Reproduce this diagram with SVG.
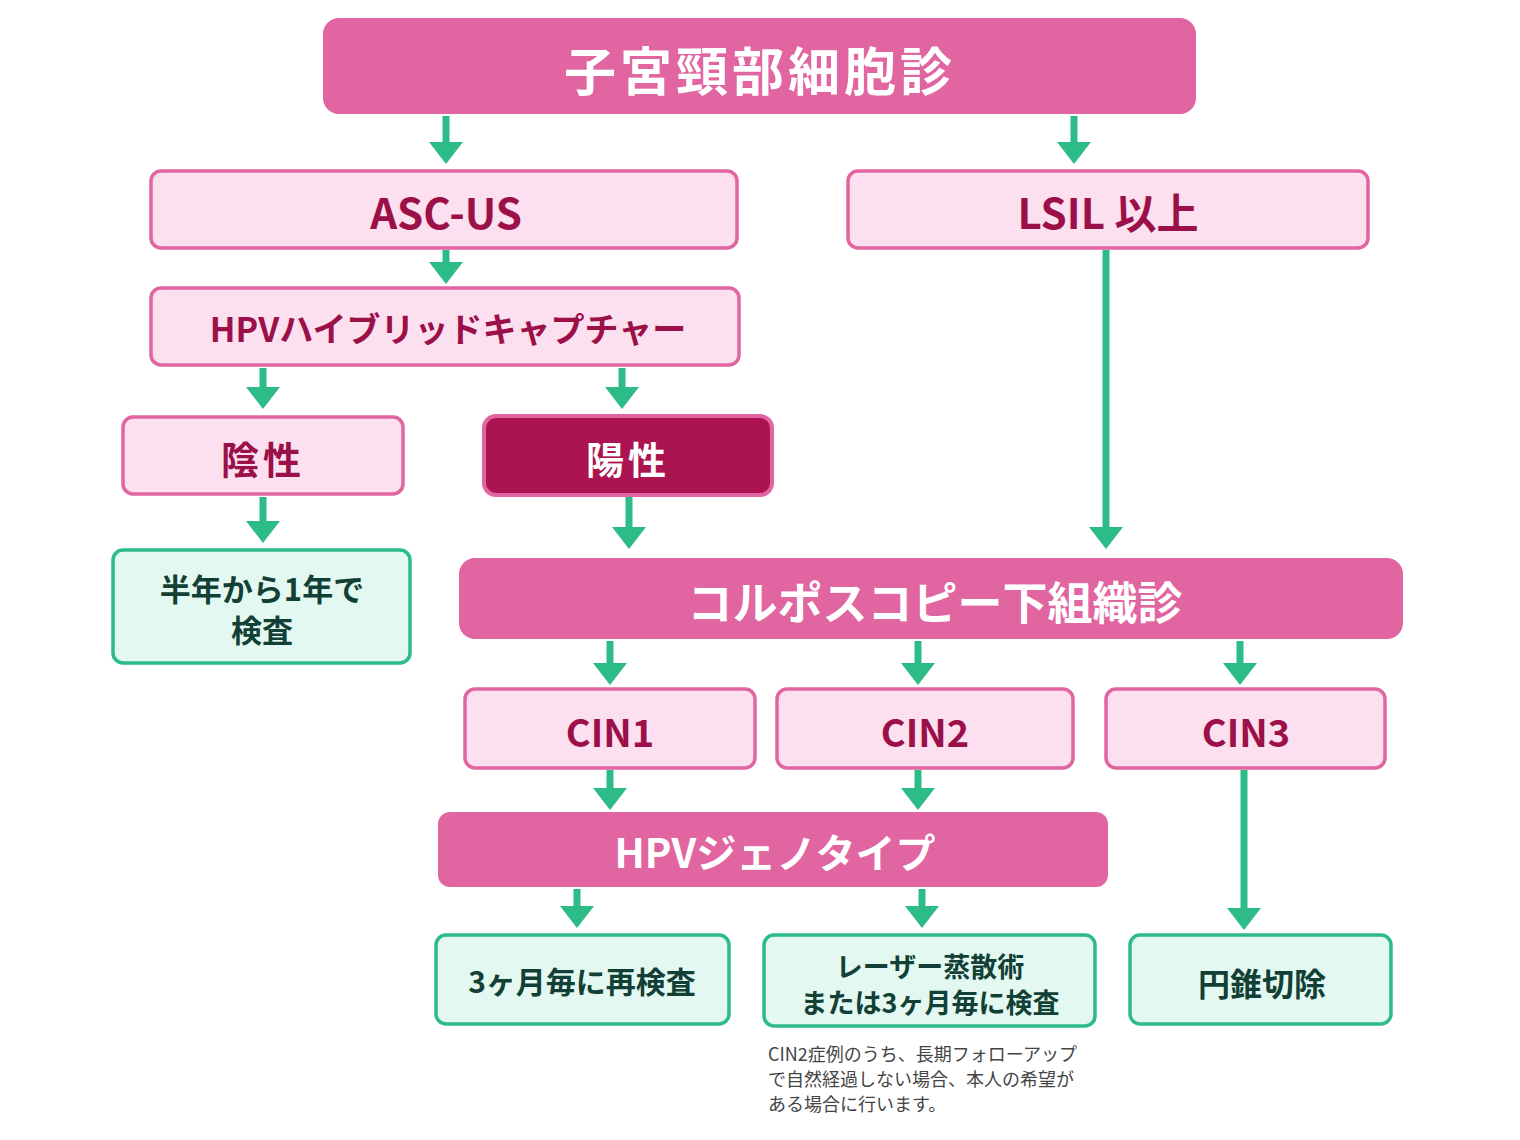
<svg xmlns="http://www.w3.org/2000/svg" width="1520" height="1140" viewBox="0 0 1520 1140">
<style>
text{font-family:"Noto Sans CJK JP","Noto Sans",sans-serif;font-weight:bold;text-anchor:middle;dominant-baseline:central}
.main rect{fill:#e065a0}
.main text{fill:#fff}
.lt rect{fill:#fde0ef;stroke:#e065a0;stroke-width:3.5}
.lt text{fill:#9b1048}
.gr rect{fill:#e3f8f0;stroke:#2dbb88;stroke-width:3.5}
.gr text{fill:#123f36}
.dk rect{fill:#ab1450;stroke:#e065a0;stroke-width:4}
.dk text{fill:#fff}
#connectors line{stroke:#2dbb88;stroke-width:7}
#connectors path{fill:#2dbb88}
.note{font-weight:normal;text-anchor:start;fill:#444;font-size:18px}
</style>
<rect width="1520" height="1140" fill="#fff"/>
<g id="connectors">
<line x1="446" y1="116" x2="446" y2="142"/><path d="M429 142h34l-17 22z"/>
<line x1="1074" y1="116" x2="1074" y2="142"/><path d="M1057 142h34l-17 22z"/>
<line x1="446" y1="250" x2="446" y2="264"/><path d="M429 262h34l-17 22z"/>
<line x1="263" y1="368" x2="263" y2="388"/><path d="M246 387h34l-17 22z"/>
<line x1="622" y1="368" x2="622" y2="388"/><path d="M605 387h34l-17 22z"/>
<line x1="263" y1="497" x2="263" y2="522"/><path d="M246 521h34l-17 22z"/>
<line x1="629" y1="497" x2="629" y2="528"/><path d="M612 527h34l-17 22z"/>
<line x1="1106" y1="250" x2="1106" y2="528"/><path d="M1089 527h34l-17 22z"/>
<line x1="610" y1="641" x2="610" y2="664"/><path d="M593 663h34l-17 22z"/>
<line x1="918" y1="641" x2="918" y2="664"/><path d="M901 663h34l-17 22z"/>
<line x1="1240" y1="641" x2="1240" y2="664"/><path d="M1223 663h34l-17 22z"/>
<line x1="610" y1="770" x2="610" y2="789"/><path d="M593 788h34l-17 22z"/>
<line x1="918" y1="770" x2="918" y2="789"/><path d="M901 788h34l-17 22z"/>
<line x1="1244" y1="770" x2="1244" y2="910"/><path d="M1227 908h34l-17 22z"/>
<line x1="577" y1="889" x2="577" y2="907"/><path d="M560 906h34l-17 22z"/>
<line x1="922" y1="889" x2="922" y2="907"/><path d="M905 906h34l-17 22z"/>
</g>
<g id="n-top" class="main"><rect x="323" y="18" width="873" height="96" rx="16"/><text x="760" y="68" font-size="52" letter-spacing="4">子宮頸部細胞診</text></g>
<g id="n-ascus" class="lt"><rect x="151" y="171" width="586" height="77" rx="10"/><text x="446" y="210" font-size="42">ASC-US</text></g>
<g id="n-lsil" class="lt"><rect x="848" y="171" width="520" height="77" rx="10"/><text x="1108" y="210" font-size="42">LSIL 以上</text></g>
<g id="n-hc" class="lt"><rect x="151" y="288" width="588" height="77" rx="10"/><text x="448" y="327" font-size="34">HPVハイブリッドキャプチャー</text></g>
<g id="n-neg" class="lt"><rect x="123" y="417" width="280" height="77" rx="10"/><text x="263" y="457" font-size="38" letter-spacing="4">陰性</text></g>
<g id="n-pos" class="dk"><rect x="484" y="416" width="288" height="79" rx="12"/><text x="628" y="457" font-size="38" letter-spacing="4">陽性</text></g>
<g id="n-6m" class="gr"><rect x="113" y="550" width="297" height="113" rx="10"/><text x="262" y="587" font-size="31">半年から1年で</text><text x="262" y="628" font-size="31">検査</text></g>
<g id="n-colpo" class="main"><rect x="459" y="558" width="944" height="81" rx="16"/><text x="935" y="600" font-size="45">コルポスコピー下組織診</text></g>
<g id="n-cin1" class="lt"><rect x="465" y="689" width="290" height="79" rx="10"/><text x="610" y="730" font-size="38">CIN1</text></g>
<g id="n-cin2" class="lt"><rect x="777" y="689" width="296" height="79" rx="10"/><text x="925" y="730" font-size="38">CIN2</text></g>
<g id="n-cin3" class="lt"><rect x="1106" y="689" width="279" height="79" rx="10"/><text x="1246" y="730" font-size="38">CIN3</text></g>
<g id="n-geno" class="main"><rect x="438" y="812" width="670" height="75" rx="12"/><text x="775" y="851" font-size="40">HPVジェノタイプ</text></g>
<g id="n-3m" class="gr"><rect x="436" y="935" width="293" height="89" rx="10"/><text x="582" y="980" font-size="30">3ヶ月毎に再検査</text></g>
<g id="n-laser" class="gr"><rect x="764" y="935" width="331" height="91" rx="10"/><text x="930" y="965" font-size="27">レーザー蒸散術</text><text x="930" y="1001" font-size="27">または3ヶ月毎に検査</text></g>
<g id="n-cone" class="gr"><rect x="1130" y="935" width="261" height="89" rx="10"/><text x="1262" y="982" font-size="32">円錐切除</text></g>
<g id="note">
<text class="note" x="768" y="1053">CIN2症例のうち、長期フォローアップ</text>
<text class="note" x="768" y="1078">で自然経過しない場合、本人の希望が</text>
<text class="note" x="768" y="1103">ある場合に行います。</text>
</g>
</svg>
